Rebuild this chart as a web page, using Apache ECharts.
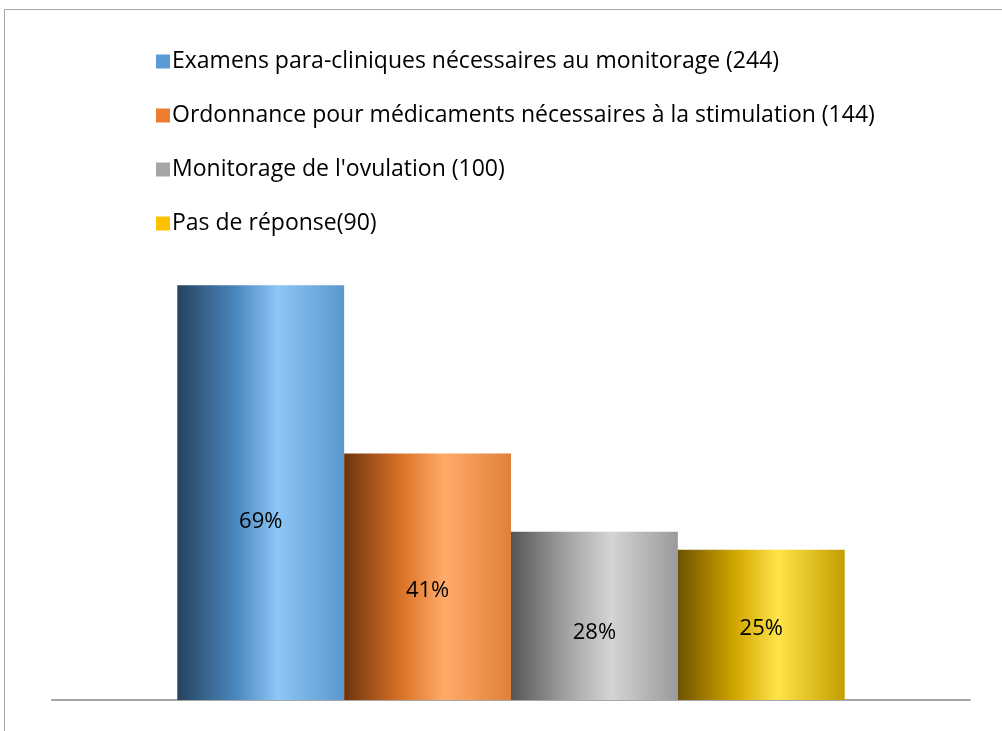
<!DOCTYPE html>
<html><head><meta charset="utf-8">
<script src="https://cdn.jsdelivr.net/npm/echarts@6/dist/echarts.min.js"></script>
<style>html,body{margin:0;padding:0;background:#fff}#c{width:1002px;height:731px}</style>
</head><body><div id="c"></div>
<script>
const categories = [''];
const seriesNames = [
  'Examens para-cliniques nécessaires au monitorage (244)',
  'Ordonnance pour médicaments nécessaires à la stimulation (144)',
  "Monitorage de l'ovulation (100)",
  'Pas de réponse(90)'
];
const seriesValues = [69, 41, 28, 25];
const labelOffsets = [29, 14, 17, 4];
const gradients = [
  ['#26435e', '#4a86bf', '#8ec6f6', '#5a98cf'],
  ['#6e340c', '#dc7428', '#ffab6a', '#e08038'],
  ['#555555', '#a6a6a6', '#d4d4d4', '#9a9a9a'],
  ['#6e5200', '#d2a800', '#ffe44a', '#c49e00']
];
const legendColors = ['#5b9bd5', '#ed7d31', '#a5a5a5', '#ffc000'];

const chart = echarts.init(document.getElementById('c'), null, {renderer: 'canvas'});
const series = seriesNames.map((name, i) => ({
  name: name,
  type: 'bar',
  barGap: '0%',
  barCategoryGap: '27.3%',
  data: [seriesValues[i]],
  itemStyle: {
    color: {
      type: 'linear', x: 0, y: 0, x2: 1, y2: 0,
      colorStops: [
        {offset: 0, color: gradients[i][0]},
        {offset: 0.35, color: gradients[i][1]},
        {offset: 0.6, color: gradients[i][2]},
        {offset: 1, color: gradients[i][3]}
      ]
    }
  },
  label: {
    show: true, position: 'inside', offset: [0, labelOffsets[i]],
    formatter: '{c}%', color: '#000', fontSize: 22,
    fontFamily: 'Open Sans'
  }
}));

chart.setOption({
  animation: false,
  color: legendColors,
  graphic: [{
    type: 'rect', shape: {x: 4.5, y: 9.5, width: 1100, height: 800},
    style: {fill: 'none', stroke: '#a6a6a6', lineWidth: 1}, silent: true
  }],
  legend: {
    orient: 'vertical', left: 151, top: 45, itemGap: 31,
    itemWidth: 14, itemHeight: 14, icon: 'rect',
    data: seriesNames.map((n, i) => ({name: n, itemStyle: {color: legendColors[i]}})),
    textStyle: {fontSize: 23, color: '#000', fontFamily: 'Open Sans', padding: [0,0,0,-3]}
  },
  grid: {left: 52, right: 32, top: 99, bottom: 31, containLabel: false},
  xAxis: {
    type: 'category', data: categories,
    axisLine: {lineStyle: {color: '#a6a6a6', width: 2}},
    axisTick: {show: false}, axisLabel: {show: false}
  },
  yAxis: {
    type: 'value', min: 0, max: 100, show: false, splitLine: {show: false}
  },
  series: series
});
</script></body></html>
